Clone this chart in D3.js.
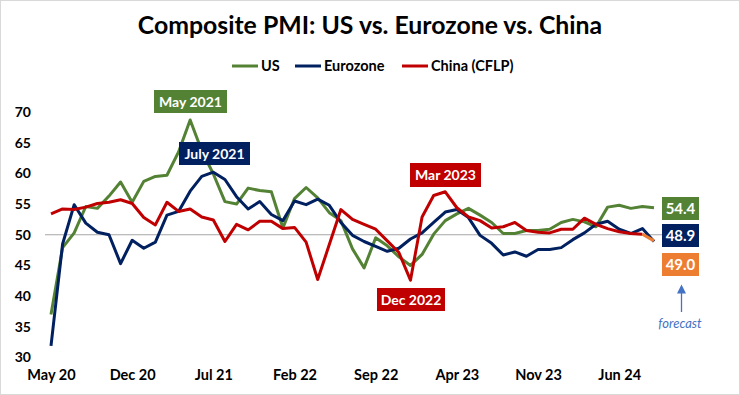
<!DOCTYPE html>
<html><head><meta charset="utf-8">
<script src="https://cdn.jsdelivr.net/npm/d3@7/dist/d3.min.js"></script>
<style>
html,body{margin:0;padding:0;background:#fff;}
svg{display:block;font-family:Lato,"Open Sans",sans-serif;}
</style></head>
<body><svg id="c" width="740" height="395"></svg>
<script>
// Months: May 2020 .. Sep 2024
const monthCount = 53;
const xTickLabels = ["May 20","Dec 20","Jul 21","Feb 22","Sep 22","Apr 23","Nov 23","Jun 24"];
const xTickIndex = [0,7,14,21,28,35,42,49];
const yTicks = [30,35,40,45,50,55,60,65,70];

const usValues = [37.0,47.9,50.3,54.6,54.3,56.3,58.6,55.3,58.7,59.5,59.7,63.5,68.7,63.7,59.9,55.4,55.0,57.6,57.2,57.0,51.1,55.9,57.7,56.0,53.6,52.3,47.7,44.6,49.5,48.2,46.4,45.0,46.8,50.1,52.3,53.4,54.3,53.2,52.0,50.2,50.2,50.7,50.7,50.9,52.0,52.5,52.1,51.3,54.5,54.8,54.3,54.6,54.4];
const euroValues = [31.9,48.5,54.9,51.9,50.4,50.0,45.3,49.1,47.8,48.8,53.2,53.8,57.1,59.5,60.2,59.0,56.2,54.2,55.4,53.3,52.3,55.5,54.9,55.8,54.8,52.0,49.9,48.9,48.1,47.3,47.8,49.3,50.3,52.0,53.7,54.1,52.8,49.9,48.6,46.7,47.2,46.5,47.6,47.6,47.9,49.2,50.3,51.7,52.2,50.9,50.2,51.0,48.9];
const chinaValues = [53.4,54.2,54.1,54.5,55.1,55.3,55.7,55.1,52.8,51.6,55.3,53.8,54.2,52.9,52.4,48.9,51.7,50.8,52.2,52.2,51.0,51.2,48.8,42.7,48.4,54.1,52.5,51.7,50.9,49.0,47.1,42.6,52.9,56.4,57.0,54.4,52.9,52.3,51.1,51.3,52.0,50.7,50.4,50.3,50.9,50.9,52.7,51.7,51.0,50.5,50.2,50.1];
const chinaForecast = [50.1,49.0]; // Aug 2024 -> Sep 2024 (forecast)

const seriesNames = ["US","Eurozone","China (CFLP)"];
const colors = {us:"#548235", euro:"#002060", china:"#c00000", fc:"#ed7d31", arrow:"#4472c4"};

const annotations = [
  {text:"May 2021", color:colors.us},
  {text:"July 2021", color:colors.euro},
  {text:"Mar 2023", color:colors.china},
  {text:"Dec 2022", color:colors.china}
];
const endLabels = [
  {text:"54.4", color:colors.us},
  {text:"48.9", color:colors.euro},
  {text:"49.0", color:colors.fc}
];

const svg = d3.select("#c");
const W = 740, H = 395;

svg.append("rect").attr("x",0.5).attr("y",0.5).attr("width",W-1).attr("height",H-1)
  .attr("fill","#fff").attr("stroke","#d9d9d9");

const x = d3.scaleLinear().domain([0, monthCount-1]).range([51, 654]);
const y = d3.scaleLinear().domain([30,70]).range([357.5, 112]);

// Title
svg.append("text").attr("x",370).attr("y",34).attr("text-anchor","middle")
  .attr("font-size",24.8).attr("font-weight","bold").attr("fill","#000")
  .text("Composite PMI: US vs. Eurozone vs. China");

// Legend
const legendItems = [
  {name:seriesNames[0], color:colors.us, x1:232},
  {name:seriesNames[1], color:colors.euro, x1:295},
  {name:seriesNames[2], color:colors.china, x1:402}
];
legendItems.forEach(d=>{
  svg.append("line").attr("x1",d.x1).attr("x2",d.x1+26).attr("y1",66).attr("y2",66)
    .attr("stroke",d.color).attr("stroke-width",3);
  svg.append("text").attr("x",d.x1+29).attr("y",71).attr("font-size",14.5).attr("font-weight","bold")
    .attr("fill","#000").text(d.name);
});

// Y axis
const yAxis = d3.axisLeft(y).tickValues(yTicks).tickSize(0).tickPadding(0);
const ya = svg.append("g").attr("transform","translate(31,0)").call(yAxis);
ya.select(".domain").remove();
ya.selectAll("text").attr("font-size",14).attr("font-weight","bold").attr("fill","#000")
  .attr("font-family","Lato, sans-serif");

// X axis
const xAxis = d3.axisBottom(x).tickValues(xTickIndex).tickSize(0).tickPadding(0)
  .tickFormat((d,i)=>xTickLabels[i]);
const xa = svg.append("g").attr("transform","translate(0,370)").call(xAxis);
xa.select(".domain").remove();
xa.selectAll("text").attr("font-size",14.5).attr("font-weight","bold").attr("fill","#000")
  .attr("font-family","Lato, sans-serif");

// 50 gridline
svg.append("line").attr("x1",45).attr("x2",662).attr("y1",y(50)).attr("y2",y(50))
  .attr("stroke","#a6a6a6").attr("stroke-width",1.2);

function drawSeries(vals, color, offset){
  svg.append("path").datum(vals)
    .attr("d", d3.line().x((d,i)=>x(i+offset)).y(d=>y(d))(vals))
    .attr("fill","none").attr("stroke",color).attr("stroke-width",3)
    .attr("stroke-linejoin","round");
}
drawSeries(usValues, colors.us, 0);
drawSeries(euroValues, colors.euro, 0);
drawSeries(chinaValues, colors.china, 0);
drawSeries(chinaForecast, colors.fc, chinaValues.length-1);

// Annotation boxes
const boxPos = {
  "May 2021":{x:154,y:90,w:73,h:23},
  "July 2021":{x:179,y:142,w:71,h:23},
  "Mar 2023":{x:410,y:163,w:71,h:24},
  "Dec 2022":{x:377,y:288,w:68,h:23}
};
annotations.forEach(a=>{
  const b = boxPos[a.text];
  svg.append("rect").attr("x",b.x).attr("y",b.y).attr("width",b.w).attr("height",b.h).attr("fill",a.color);
  svg.append("text").attr("x",b.x+b.w/2).attr("y",b.y+b.h/2+5).attr("text-anchor","middle")
    .attr("font-size",14).attr("font-weight","bold").attr("fill","#fff").text(a.text);
});

// End labels
const endY = [197,224,253];
endLabels.forEach((d,i)=>{
  svg.append("rect").attr("x",662).attr("y",endY[i]).attr("width",37).attr("height",23).attr("fill",d.color);
  svg.append("text").attr("x",680.5).attr("y",endY[i]+16.5).attr("text-anchor","middle")
    .attr("font-size",15).attr("font-weight","bold").attr("fill","#fff").text(d.text);
});

// Forecast arrow
svg.append("defs").append("marker").attr("id","ah").attr("viewBox","0 0 10 10")
  .attr("refX",5).attr("refY",5).attr("markerWidth",7).attr("markerHeight",7).attr("orient","auto")
  .append("path").attr("d","M0,0 L10,5 L0,10 z").attr("fill",colors.arrow);
svg.append("line").attr("x1",681.5).attr("x2",681.5).attr("y1",312).attr("y2",289)
  .attr("stroke",colors.arrow).attr("stroke-width",1.3).attr("marker-end","url(#ah)");
svg.append("text").attr("x",680).attr("y",328).attr("text-anchor","middle")
  .attr("font-size",13).attr("font-style","italic").attr("fill",colors.arrow).text("forecast");
</script></body></html>
